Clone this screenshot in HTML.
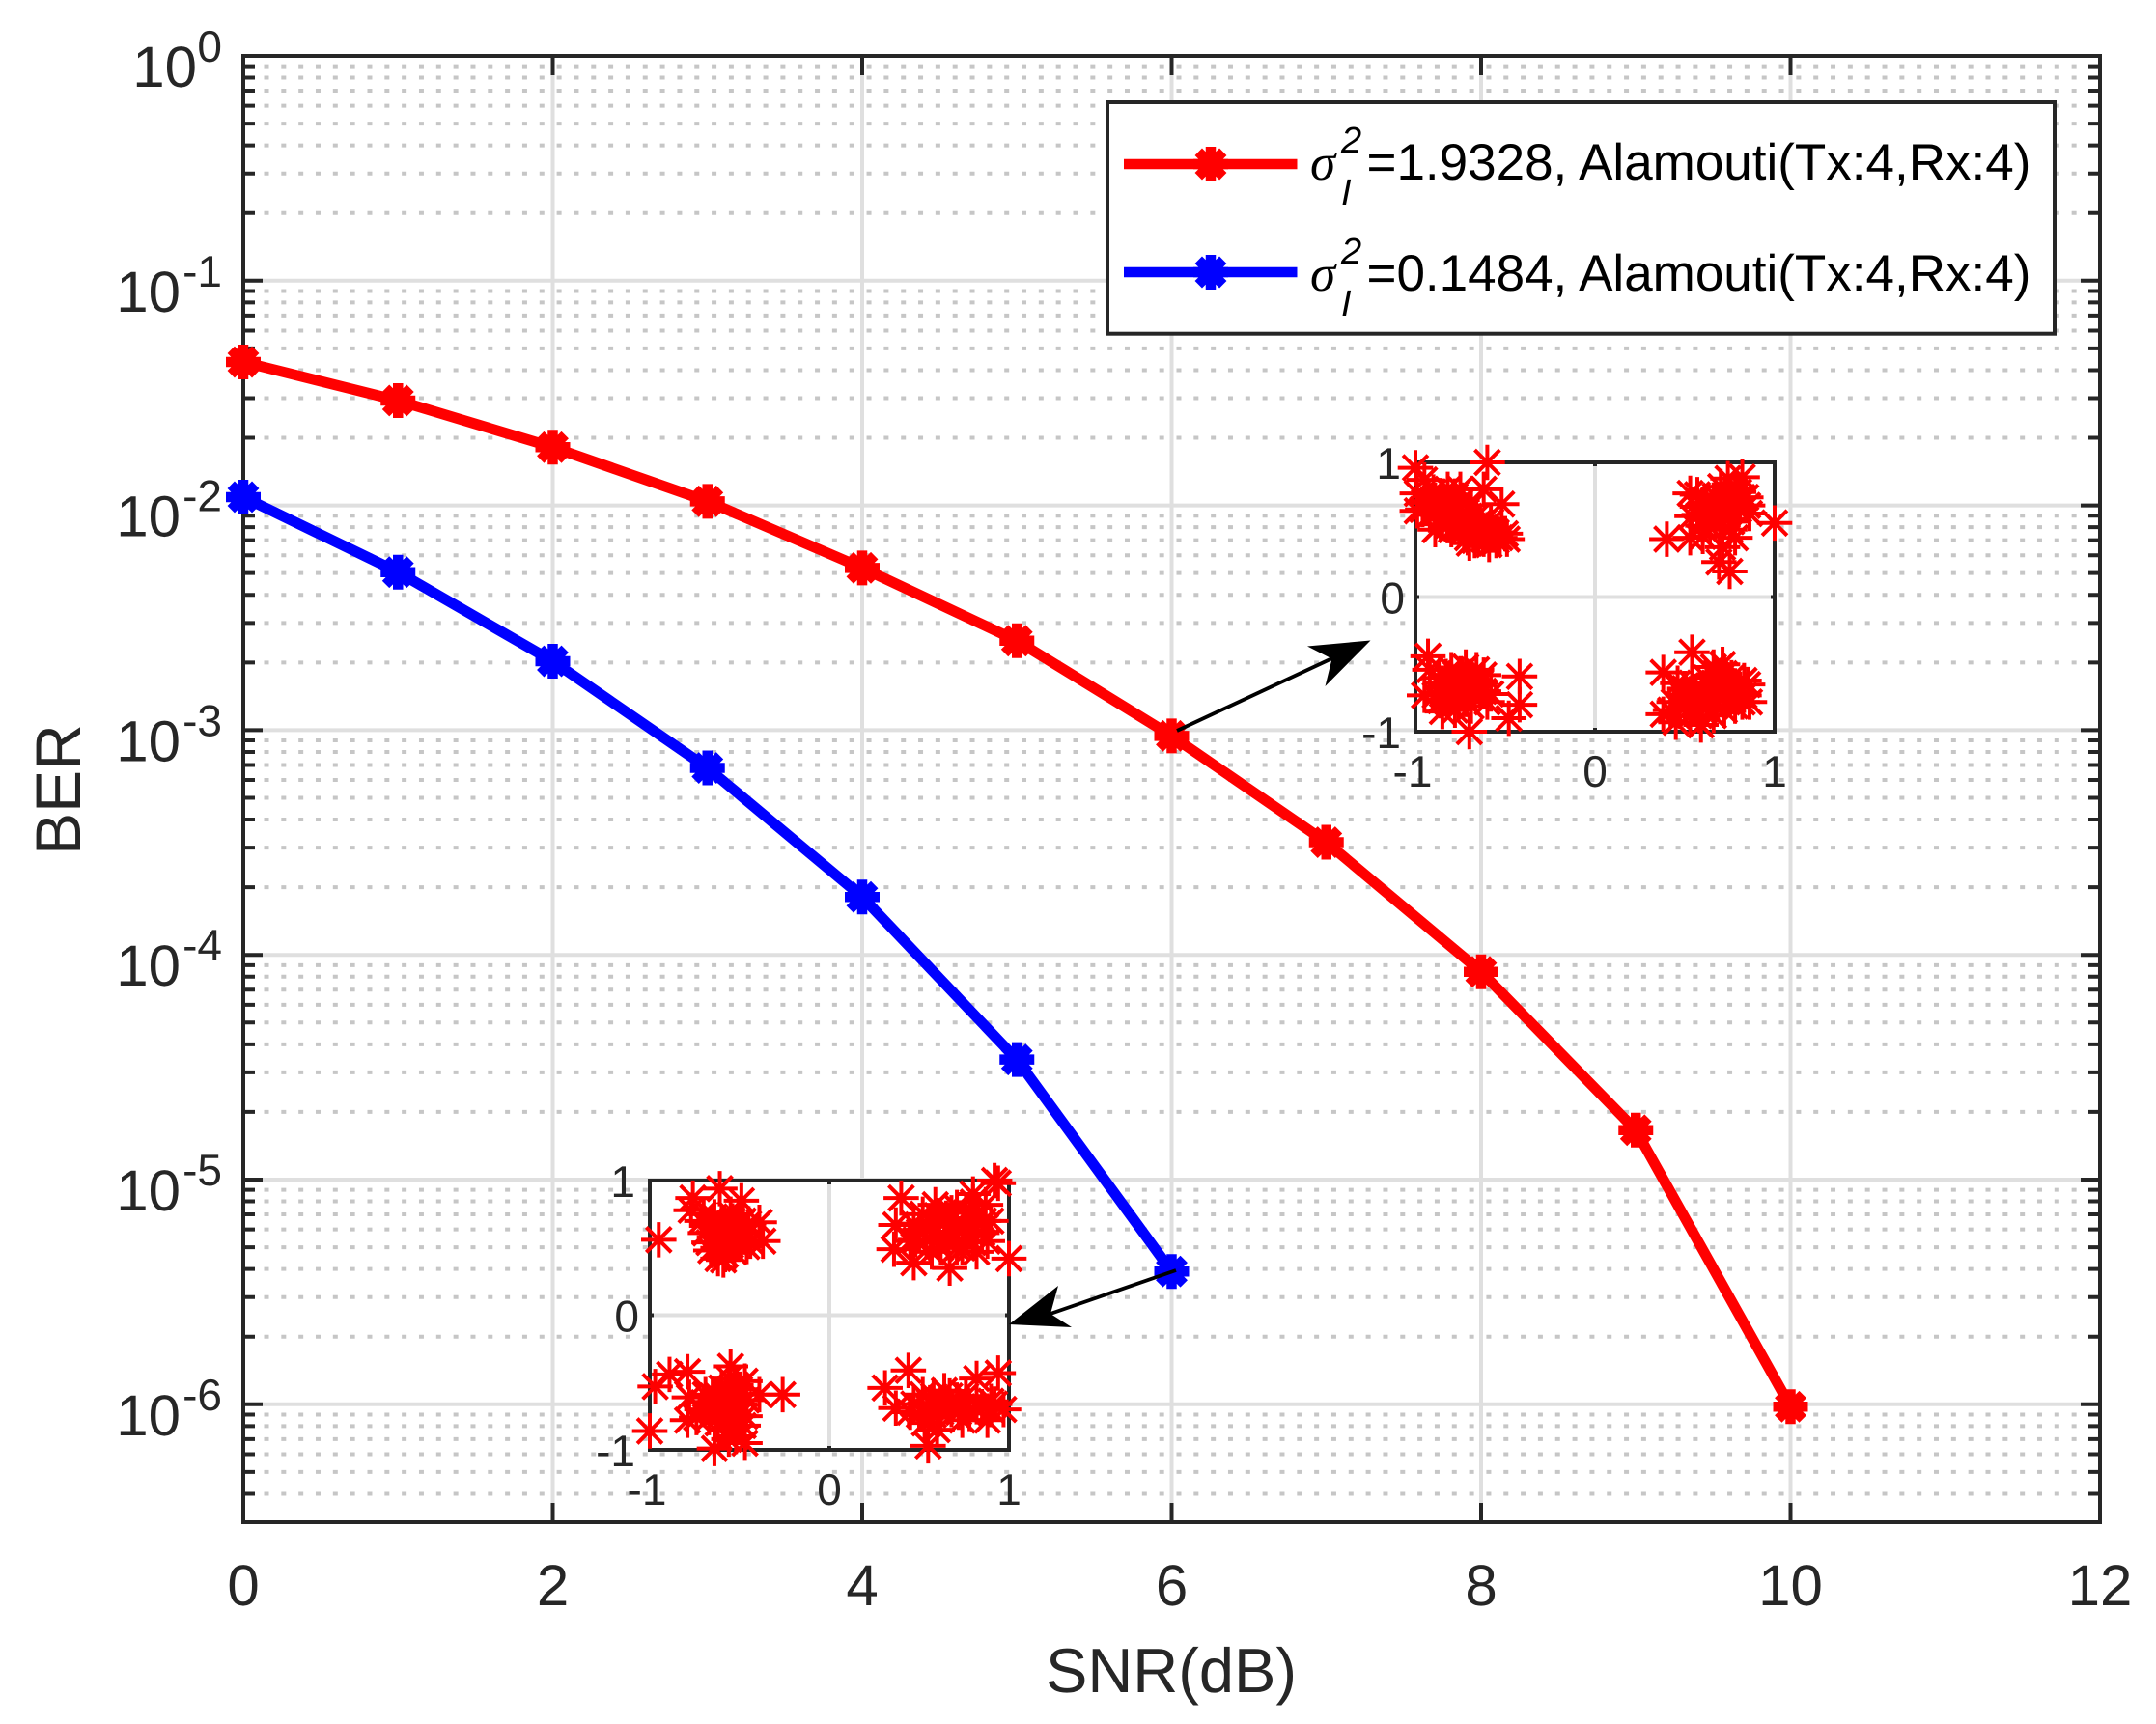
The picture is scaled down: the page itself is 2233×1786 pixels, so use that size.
<!DOCTYPE html>
<html lang="en">
<head>
<meta charset="utf-8">
<title>BER vs SNR chart</title>
<style>
html,body{margin:0;padding:0;background:#fff;}
svg{display:block;font-family:"Liberation Sans",sans-serif;text-rendering:geometricPrecision;}
</style>
</head>
<body>
<svg id="chart" xmlns="http://www.w3.org/2000/svg" width="2233" height="1786" viewBox="0 0 2233 1786">
<rect x="0" y="0" width="2233" height="1786" fill="#fff"/>
<g id="main-layer"></g>
<g id="inset-layer"></g>
<g id="arrow-layer">
  <g>
    <line x1="1219" y1="757" x2="1382" y2="681" stroke="#000" stroke-width="3.8"/>
    <polygon points="1419.5,663.5 1354,669.5 1379.5,682.5 1372.5,711" fill="#000"/>
  </g>
  <g>
    <line x1="1218" y1="1316" x2="1085" y2="1362" stroke="#000" stroke-width="3.8"/>
    <polygon points="1045,1372 1096,1332 1088,1361 1110,1375" fill="#000"/>
  </g>
</g>
<g id="legend">
  <rect x="1147" y="106" width="981" height="239.7" fill="#fff" stroke="#262626" stroke-width="4"/>
  <g>
    <line x1="1164" y1="170" x2="1343.5" y2="170" stroke="#f00" stroke-width="10.5"/>
    <g id="legend-marker-red"></g>
    <text x="1357" y="186" font-family="Liberation Serif" font-style="italic" font-size="53" fill="#000">σ</text>
    <text x="1389" y="158" font-style="italic" font-size="38" fill="#000">2</text>
    <text x="1389" y="212" font-style="italic" font-size="38" fill="#000">I</text>
    <text x="1415.5" y="186" font-size="53" fill="#000">=1.9328, Alamouti(Tx:4,Rx:4)</text>
  </g>
  <g>
    <line x1="1164" y1="282" x2="1343.5" y2="282" stroke="#00f" stroke-width="10.5"/>
    <g id="legend-marker-blue"></g>
    <text x="1357" y="301" font-family="Liberation Serif" font-style="italic" font-size="53" fill="#000">σ</text>
    <text x="1389" y="273" font-style="italic" font-size="38" fill="#000">2</text>
    <text x="1389" y="327" font-style="italic" font-size="38" fill="#000">I</text>
    <text x="1415.5" y="301" font-size="53" fill="#000">=0.1484, Alamouti(Tx:4,Rx:4)</text>
  </g>
</g>
</svg>
<script>
const snrTicks = [0, 2, 4, 6, 8, 10, 12];
const berExponents = [0, -1, -2, -3, -4, -5, -6];
const minorDigits = [2, 3, 4, 5, 6, 7, 8, 9];
const snrValues = [0, 1, 2, 3, 4, 5, 6, 7, 8, 9, 10];
const berRed = [0.04348, 0.02928, 0.01816, 0.01043, 0.00527, 0.0025, 0.000943, 0.000317, 0.0000841, 0.0000166, 0.000000976];
const berBlue = [0.01089, 0.005049, 0.002026, 0.000679, 0.000181, 0.0000342, 0.0000039];
const insetTicks = [-1, 0, 1];

const upperInsetPoints = [
[-1,.96],[-.6,1],[-.95,.87],[-.99,.77],[-.99,.64],[-.89,.5],[-.52,.69],[-.62,.8],[-.7,.4],[-.59,.39],[-.49,.43],[-.75,.8],[-.84,.68],[-.76,.56],[-.89,.72],[-.82,.8],[-.69,.68],[-.64,.56],[-.73,.49],[-.57,.46],[-.92,.61],[-.82,.53],[-.53,.44],[-.65,.44],[-.96,.65],[-.85,.58],[-.78,.62],[-.72,.58],[-.68,.5],[-.6,.5],[-.88,.64],[-.8,.7],[-.74,.72],[-.66,.47],[-.55,.42],[-.62,.43],
[-.9,.78],[-.85,.75],[-.78,.75],[-.7,.6],[-.74,.52],[-.67,.42],[-.62,.48],[-.55,.48],[-.5,.47],[-.58,.56],[-.86,.54],[-.93,.7],[-.66,.6],[-.71,.44],[-.8,.5],
[1,.55],[.4,.43],[.53,.44],[.57,.76],[.53,.77],[.74,.88],[.82,.89],[.78,.8],[.85,.68],[.75,.19],[.69,.26],[.78,.44],[.71,.37],[.58,.61],[.65,.65],[.6,.53],[.72,.7],[.8,.65],[.67,.75],[.54,.6],[.76,.56],[.67,.56],[.62,.7],[.7,.82],[.76,.72],[.82,.74],[.63,.58],
[.6,.68],[.66,.72],[.74,.76],[.8,.78],[.84,.74],[.7,.64],[.64,.52],[.72,.6],[.78,.68],[.57,.67],[.86,.62],[.6,.45],[.75,.5],
[-.93,-.44],[-.92,-.54],[-.42,-.59],[-.42,-.8],[-.48,-.9],[-.7,-1],[-.95,-.73],[-.85,-.85],[-.83,-.59],[-.69,-.59],[-.64,-.64],[-.6,-.78],[-.78,-.71],[-.89,-.73],[-.82,-.78],[-.73,-.69],[-.85,-.64],[-.75,-.57],[-.69,-.81],[-.8,-.54],[-.67,-.71],[-.77,-.63],[-.72,-.76],[-.86,-.77],[-.8,-.68],[-.66,-.65],
[-.72,-.52],[-.66,-.54],[-.62,-.58],[-.85,-.72],[-.76,-.8],[-.8,-.62],[-.7,-.66],[-.74,-.6],[-.62,-.7],[-.58,-.72],[-.82,-.7],[-.78,-.84],[-.87,-.6],
[.54,-.41],[.38,-.56],[.38,-.87],[.45,-.93],[.59,-.95],[.66,-.88],[.71,-.5],[.83,-.62],[.86,-.78],[.67,-.57],[.49,-.73],[.58,-.78],[.71,-.71],[.78,-.66],[.54,-.64],[.63,-.66],[.44,-.78],[.78,-.81],[.67,-.81],[.53,-.88],[.72,-.57],[.83,-.73],[.6,-.73],[.46,-.64],[.56,-.83],[.64,-.74],[.74,-.76],[.5,-.82],[.69,-.64],[.76,-.6],
[.68,-.68],[.62,-.6],[.74,-.64],[.8,-.72],[.5,-.78],[.55,-.7],[.62,-.82],[.72,-.84],[.82,-.78],[.66,-.52],[.5,-.68],[.58,-.88],[.76,-.74],[.85,-.65],[.42,-.84]
];

const lowerInsetPoints = [
[-.95,.56],[-.61,.94],[-.76,.87],[-.77,.78],[-.49,.85],[-.39,.69],[-.37,.55],[-.59,.41],[-.62,.42],[-.46,.51],[-.58,.63],[-.69,.61],[-.64,.73],[-.5,.68],[-.46,.61],[-.6,.51],[-.67,.54],[-.55,.75],[-.53,.47],[-.71,.7],[-.6,.68],[-.55,.58],[-.5,.55],[-.64,.58],[-.57,.5],[-.45,.68],[-.66,.48],[-.52,.62],
[-.62,.62],[-.56,.68],[-.52,.6],[-.58,.45],[-.48,.58],[-.66,.66],[-.62,.5],[-.44,.55],[-.55,.52],[-.7,.75],[-.54,.7],[-.48,.7],
[.94,.98],[.92,1],[.8,.9],[.4,.87],[.37,.67],[.36,.49],[.47,.39],[.67,.35],[1,.42],[.82,.47],[.87,.82],[.59,.82],[.71,.8],[.52,.75],[.64,.68],[.75,.66],[.85,.61],[.54,.56],[.66,.54],[.8,.54],[.57,.47],[.71,.5],[.47,.68],[.6,.74],[.76,.76],[.7,.6],[.58,.62],[.48,.56],[.86,.7],
[.5,.62],[.6,.56],[.65,.72],[.7,.66],[.78,.62],[.82,.72],[.9,.7],[.56,.7],[.62,.5],[.74,.5],[.8,.84],[.45,.55],[.88,.55],[.68,.76],
[-.97,-.53],[-.89,-.44],[-.79,-.42],[-.55,-.38],[-1,-.86],[-.26,-.59],[-.79,-.78],[-.64,-.99],[-.52,-.9],[-.47,-.49],[-.39,-.59],[-.69,-.59],[-.6,-.54],[-.55,-.68],[-.71,-.7],[-.51,-.75],[-.62,-.8],[-.46,-.63],[-.78,-.61],[-.53,-.82],[-.64,-.66],[-.47,-.75],[-.58,-.6],[-.67,-.76],[-.5,-.55],[-.56,-.47],
[-.7,-.65],[-.65,-.6],[-.6,-.72],[-.55,-.6],[-.5,-.66],[-.66,-.7],[-.56,-.85],[-.58,-.75],[-.48,-.82],[-.74,-.76],[-.52,-.52],[-.62,-.6],[-.56,-.92],[-.47,-.95],
[.31,-.54],[.44,-.41],[.94,-.43],[.82,-.47],[.9,-.7],[.55,-.97],[.6,-.85],[.53,-.8],[.37,-.69],[.78,-.73],[.64,-.56],[.52,-.59],[.71,-.63],[.85,-.68],[.61,-.68],[.47,-.66],[.67,-.6],[.56,-.65],[.74,-.68],[.9,-.64],[.58,-.74],
[.72,-.72],[.66,-.66],[.58,-.6],[.62,-.72],[.76,-.6],[.68,-.7],[.82,-.68],[.88,-.78],[.92,-.66],[.56,-.72],[.45,-.72],[.5,-.74],[.74,-.78],[.97,-.7]
];

const NS = 'http://www.w3.org/2000/svg';
const PLOT = {left: 252, right: 2175, top: 58, bottom: 1577};
const INK = '#262626';
const GRID = '#dfdfdf';
const MINOR = '#c6c6c6';

function xAxis(v) { return PLOT.left + (v / 12) * (PLOT.right - PLOT.left); }
function yAxis(v) { return PLOT.top - Math.log10(v) * 232.8; }

function make(parent, tag, attrs, text) {
  const el = document.createElementNS(NS, tag);
  for (const k in attrs) el.setAttribute(k, attrs[k]);
  if (text !== undefined) el.textContent = text;
  parent.appendChild(el);
  return el;
}

function drawStar(parent, cx, cy, radius, width, color) {
  const d = radius * Math.SQRT1_2;
  const path = 'M' + (cx - radius) + ' ' + cy + 'H' + (cx + radius) +
    'M' + cx + ' ' + (cy - radius) + 'V' + (cy + radius) +
    'M' + (cx - d) + ' ' + (cy - d) + 'L' + (cx + d) + ' ' + (cy + d) +
    'M' + (cx - d) + ' ' + (cy + d) + 'L' + (cx + d) + ' ' + (cy - d);
  return make(parent, 'path', {d: path, stroke: color, 'stroke-width': width, fill: 'none'});
}

const main = document.getElementById('main-layer');

const minorGroup = make(main, 'g', {});


const majorGroup = make(main, 'g', {});


const tickGroup = make(main, 'g', {});



berExponents.forEach(function (exp) {
  const yMajor = yAxis(Math.pow(10, exp));
  if (exp !== 0) {
    const gl = make(majorGroup, 'line', {x1: PLOT.left, x2: PLOT.right, y1: yMajor, y2: yMajor, stroke: GRID, 'stroke-width': 4});
    
    
  }
  make(tickGroup, 'path', {d: 'M' + PLOT.left + ' ' + yMajor + 'h20M' + PLOT.right + ' ' + yMajor + 'h-20', stroke: INK, 'stroke-width': 4});
  minorDigits.forEach(function (k) {
    const v = k * Math.pow(10, exp - 1);
    if (v < 3.01e-7) return;
    const y = yAxis(v);
    const ml = make(minorGroup, 'line', {x1: 273.5, x2: 2158, y1: y, y2: y, stroke: MINOR, 'stroke-width': 4, 'stroke-dasharray': '5 12.83'});
    
    
    make(tickGroup, 'path', {d: 'M' + PLOT.left + ' ' + y + 'h12M' + PLOT.right + ' ' + y + 'h-12', stroke: INK, 'stroke-width': 4});
  });
  const base = make(main, 'text', {x: exp === 0 ? 204 : 187, y: yMajor + 32, 'text-anchor': 'end', 'font-size': 60, fill: INK}, '10');
  
  
  const sup = make(main, 'text', {x: 230, y: yMajor + 6, 'text-anchor': 'end', 'font-size': 46, fill: INK}, String(exp));
  
  
});

snrTicks.forEach(function (t) {
  const x = xAxis(t);
  if (t !== 0 && t !== 12) {
    const gl = make(majorGroup, 'line', {x1: x, x2: x, y1: PLOT.top, y2: PLOT.bottom, stroke: GRID, 'stroke-width': 4});
    
    
  }
  make(tickGroup, 'path', {d: 'M' + x + ' ' + PLOT.top + 'v20M' + x + ' ' + PLOT.bottom + 'v-20', stroke: INK, 'stroke-width': 4});
  const lab = make(main, 'text', {x: x, y: 1663, 'text-anchor': 'middle', 'font-size': 60, fill: INK}, String(t));
  
  
});

const axesBox = make(main, 'rect', {x: PLOT.left, y: PLOT.top, width: PLOT.right - PLOT.left, height: PLOT.bottom - PLOT.top, fill: 'none', stroke: INK, 'stroke-width': 4});



const xTitle = make(main, 'text', {x: 1213, y: 1753, 'text-anchor': 'middle', 'font-size': 65, fill: INK}, 'SNR(dB)');


const yTitle = make(main, 'text', {x: 0, y: 0, transform: 'translate(83 818) rotate(-90)', 'text-anchor': 'middle', 'font-size': 66, fill: INK}, 'BER');



function drawSeries(values, color, name) {
  const g = make(main, 'g', {});
  
  
  const pts = values.map(function (v, i) { return xAxis(snrValues[i]) + ',' + yAxis(v); }).join(' ');
  make(g, 'polyline', {points: pts, fill: 'none', stroke: color, 'stroke-width': 11, 'stroke-linejoin': 'round'});
  values.forEach(function (v, i) {
    const m = drawStar(g, xAxis(snrValues[i]), yAxis(v), 18, 10.5, color);
    
    
  });
}
drawSeries(berRed, '#f00', 'series-red');
drawSeries(berBlue, '#00f', 'series-blue');

const legendRed = drawStar(document.getElementById('legend-marker-red'), 1254, 170, 18, 10.5, '#f00');


const legendBlue = drawStar(document.getElementById('legend-marker-blue'), 1254, 282, 18, 10.5, '#00f');



function drawInset(box, points, name) {
  const layer = document.getElementById('inset-layer');
  const g = make(layer, 'g', {});
  
  
  const ix = function (v) { return box.left + (v + 1) / 2 * (box.right - box.left); };
  const iy = function (v) { return box.bottom - (v + 1) / 2 * (box.bottom - box.top); };
  make(g, 'rect', {x: box.left, y: box.top, width: box.right - box.left, height: box.bottom - box.top, fill: '#fff'});
  make(g, 'path', {d: 'M' + ix(0) + ' ' + box.top + 'V' + box.bottom + 'M' + box.left + ' ' + iy(0) + 'H' + box.right, stroke: GRID, 'stroke-width': 4, fill: 'none'});
  make(g, 'path', {d: 'M' + ix(0) + ' ' + box.top + 'v4M' + ix(0) + ' ' + box.bottom + 'v-4M' + box.left + ' ' + iy(0) + 'h4M' + box.right + ' ' + iy(0) + 'h-4', stroke: INK, 'stroke-width': 4, fill: 'none'});
  make(g, 'rect', {x: box.left, y: box.top, width: box.right - box.left, height: box.bottom - box.top, fill: 'none', stroke: INK, 'stroke-width': 4});
  insetTicks.forEach(function (t) {
    const xl = make(g, 'text', {x: ix(t) - (t < 0 ? 3 : 0), y: box.bottom + 57, 'text-anchor': 'middle', 'font-size': 46, fill: INK}, String(t));
    
    
    const yl = make(g, 'text', {x: box.left - (t === 0 ? 11 : 15), y: iy(t) + 17, 'text-anchor': 'end', 'font-size': 46, fill: INK}, String(t));
    
    
  });
  points.forEach(function (p) {
    const s = drawStar(g, ix(p[0]), iy(p[1]), 18.3, 4, '#f00');
    
    
  });
}
drawInset({left: 1466, right: 1838, top: 479, bottom: 758}, upperInsetPoints, 'upper-constellation-inset');
drawInset({left: 673, right: 1045, top: 1223, bottom: 1502}, lowerInsetPoints, 'lower-constellation-inset');

const svgRoot = document.getElementById('chart');
svgRoot.insertBefore(document.getElementById('arrow-layer'), document.getElementById('legend'));
</script>
</body>
</html>
